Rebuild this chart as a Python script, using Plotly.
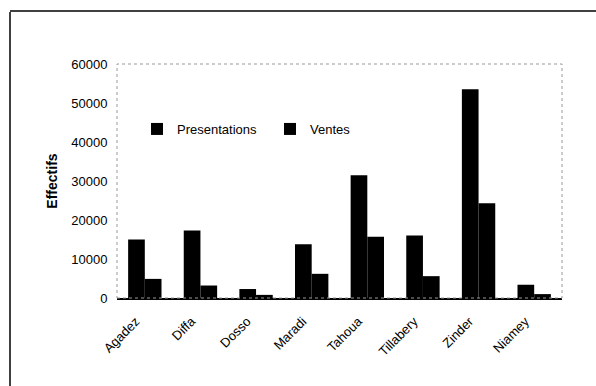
import plotly.graph_objects as go

categories = ["Agadez", "Diffa", "Dosso", "Maradi", "Tahoua", "Tillabery", "Zinder", "Niamey"]
presentations = [15000, 17300, 2300, 13800, 31500, 16000, 53500, 3400]
ventes = [4900, 3200, 800, 6200, 15700, 5600, 24300, 1000]
y_ticks = [0, 10000, 20000, 30000, 40000, 50000, 60000]
y_tick_labels = ["0", "10000", "20000", "30000", "40000", "50000", "60000"]

W, H = 596, 386
L, R, T, B = 117, 34, 64, 88
pw, ph = W - L - R, H - T - B

def px_x(p):
    return (p - L) / pw

def px_y(p):
    return (H - B - p) / ph

fig = go.Figure()
fig.add_trace(go.Bar(x=categories, y=presentations, name="Presentations",
                     marker=dict(color="black", line=dict(width=0))))
fig.add_trace(go.Bar(x=categories, y=ventes, name="Ventes",
                     marker=dict(color="black", line=dict(width=0))))

font = "Liberation Sans, Arial, sans-serif"
fig.update_layout(
    width=W, height=H,
    margin=dict(l=L, r=R, t=T, b=B),
    paper_bgcolor="white", plot_bgcolor="white",
    barmode="group", bargap=0.4, bargroupgap=0,
    font=dict(family=font, size=13, color="black"),
    showlegend=True,
    legend=dict(orientation="h", x=px_x(137), y=px_y(129), xanchor="left", yanchor="middle",
                bgcolor="rgba(0,0,0,0)", font=dict(size=13), itemwidth=30,
                entrywidth=88, itemsizing="constant", tracegroupgap=0),
    xaxis=dict(tickangle=-45, showline=True, linecolor="black", linewidth=1.5,
               ticks="outside", ticklen=9, tickcolor="rgba(0,0,0,0)",
               ticklabelshift=-9,
               showgrid=False, tickfont=dict(size=13)),
    yaxis=dict(range=[0, 60000], tickvals=y_ticks, ticktext=y_tick_labels,
               showgrid=False, zeroline=False,
               showline=False, ticks="outside", ticklen=6, tickcolor="rgba(0,0,0,0)",
               tickfont=dict(size=13),
               title=dict(text="<b>Effectifs</b>", font=dict(size=14), standoff=10)),
    shapes=[
        dict(type="line", xref="paper", yref="paper", x0=px_x(10), x1=px_x(10),
             y0=px_y(12), y1=px_y(386), line=dict(color="black", width=1.5)),
        dict(type="line", xref="paper", yref="paper", x0=px_x(10), x1=px_x(596),
             y0=px_y(11), y1=px_y(11), line=dict(color="black", width=1.5)),
        dict(type="rect", xref="paper", yref="paper", x0=0, x1=1, y0=0, y1=1,
             line=dict(color="#999999", width=1, dash="dot")),
    ],
)

fig.write_html("out.html")
